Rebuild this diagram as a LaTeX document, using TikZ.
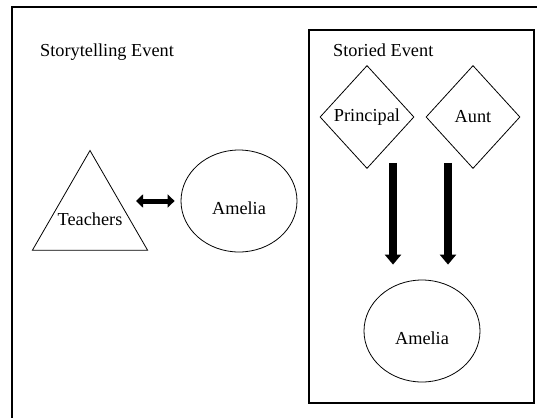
\documentclass[tikz,border=0pt]{standalone}
\usepackage{fontspec}
\setmainfont{Liberation Serif}
\usetikzlibrary{shapes.geometric,arrows.meta,calc}
\tikzset{
  shp/.style={draw,line width=0.8pt,inner sep=0pt,font=\fontsize{18.3}{22}\selectfont},
  trishape/.style={shp,regular polygon,regular polygon sides=3,minimum size=133pt},
  dmd/.style={shp,diamond,minimum width=94pt,minimum height=103pt},
  ovl/.style={shp,ellipse,minimum width=116pt,minimum height=102pt,text height=28pt},
  ttl/.style={anchor=base west,inner sep=0pt,font=\fontsize{18.3}{22}\selectfont},
  heavy/.style={line width=7.5pt,-{Triangle[width=16pt,length=10pt]}},
  twoway/.style={line width=5pt,{Triangle[width=13pt,length=7pt]}-{Triangle[width=13pt,length=7pt]}}
}
\begin{document}
\begin{tikzpicture}[x=1pt,y=-1pt]
\useasboundingbox (0,0) rectangle (537,417);
\clip (0,0) rectangle (537,417);
% frames
\draw[line width=1.2pt] (12,7) rectangle (560,440);
\draw[line width=1.2pt] (309,30) rectangle (534,403);
\node[ttl] (tl) at (40,57) {Storytelling Event};
\node[ttl] (sl) at (333,57) {Storied Event};
% storytelling event
\node[trishape,label={[font=\fontsize{18.3}{22}\selectfont,yshift=-2pt]center:Teachers}] (teach) at (90,217) {};
\node[ovl] (amel) at (239,201) {Amelia};
\draw[twoway,shorten <=46pt,shorten >=6pt] (teach.center |- amel.west) -- (amel.west);
% storied event
\node[dmd] (prin) at (367,117) {Principal};
\node[dmd] (aunt) at (473,117) {Aunt};
\node[ovl] (amelb) at (422,331) {Amelia};
\coordinate (tipL) at ([xshift=-29pt,yshift=15pt]amelb.north);
\coordinate (tipR) at ([xshift=26pt,yshift=15pt]amelb.north);
\draw[heavy] ($(tipL |- prin.south)+(0,-6)$) -- (tipL);
\draw[heavy] ($(tipR |- aunt.south)+(0,-6)$) -- (tipR);
\end{tikzpicture}
\end{document}
